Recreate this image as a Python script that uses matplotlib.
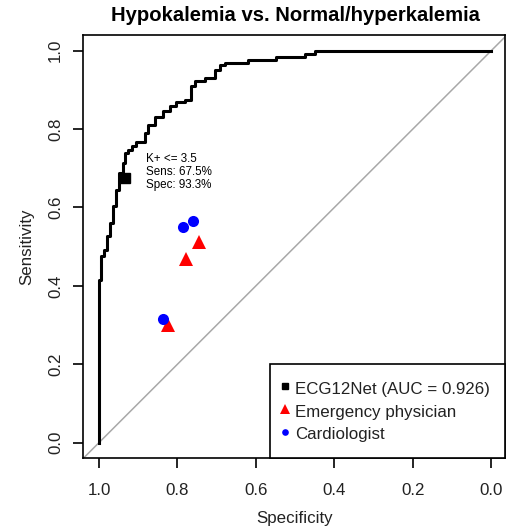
import matplotlib
matplotlib.use("Agg")
import matplotlib.pyplot as plt
from matplotlib.lines import Line2D

plt.rcParams['font.family'] = ['Liberation Sans', 'DejaVu Sans']

# ROC curve of ECG12Net (step vertices, spec decreasing)
roc_spec = [1.000, 1.000, 0.9957, 0.9873, 0.9786, 0.9727, 0.9643, 0.9557, 0.9498,
            0.9400, 0.9345, 0.9261, 0.9159, 0.9047, 0.8835, 0.8751, 0.8581, 0.8369,
            0.8198, 0.8028, 0.7816, 0.7645, 0.7561, 0.7306, 0.7051, 0.6924, 0.6796,
            0.6211, 0.5479, 0.4758, 0.4503, 0.000]
roc_sens = [0.000, 0.415, 0.475, 0.492, 0.526, 0.561, 0.603, 0.645, 0.689,
            0.714, 0.740, 0.747, 0.756, 0.768, 0.791, 0.811, 0.832, 0.845,
            0.858, 0.868, 0.875, 0.909, 0.922, 0.930, 0.951, 0.964, 0.969,
            0.975, 0.984, 0.992, 1.000, 1.000]

# best threshold
best_spec = 0.933
best_sens = 0.675
best_label = "K+ <= 3.5\nSens: 67.5%\nSpec: 93.3%"
auc = 0.926

# readers
em_spec = [0.745, 0.779, 0.824]
em_sens = [0.511, 0.469, 0.300]
card_spec = [0.786, 0.760, 0.838]
card_sens = [0.549, 0.566, 0.316]

fig = plt.figure(figsize=(5.07, 5.32), dpi=100)
ax = fig.add_axes([0.1643, 0.1385, 0.8317, 0.7957])

# chance line
ax.axline((1, 0), (0, 1), color='#a8a8a8', lw=1.1, zorder=1)

ax.plot(roc_spec, roc_sens, color='black', lw=2.2, drawstyle='steps-post', zorder=2)
ax.plot(best_spec, best_sens, 's', color='black', ms=6.5, zorder=3)
ax.text(best_spec - 0.052, best_sens + 0.015, best_label, fontsize=8.4,
        ha='left', va='center', linespacing=1.1)

ax.plot(em_spec, em_sens, '^', color='red', ms=10.5, mew=0, ls='none', zorder=3)
ax.plot(card_spec, card_sens, 'o', color='blue', ms=8, mew=0, ls='none', zorder=4)

ax.set_xlim(1.04, -0.035)
ax.set_ylim(-0.04, 1.04)
ticks = [0.0, 0.2, 0.4, 0.6, 0.8, 1.0]
ax.set_xticks(ticks)
ax.set_yticks(ticks)
ax.set_xticklabels([f"{t:.1f}" for t in ticks])
ax.set_yticklabels([f"{t:.1f}" for t in ticks], rotation=90, va='center')
ax.tick_params(length=7.2, width=1.2, labelsize=12.2, labelcolor='#222222')
ax.tick_params(axis='x', pad=10.5)
ax.tick_params(axis='y', pad=7.5)
for s in ax.spines.values():
    s.set_linewidth(1.2)

fig.text(0.582, 0.971, "Hypokalemia vs. Normal/hyperkalemia", fontsize=14.6,
         fontweight='bold', ha='center', va='center')
fig.text(0.582, 0.025, "Specificity", fontsize=12.2, ha='center', va='center',
         color='#222222')
fig.text(0.053, 0.537, "Sensitivity", fontsize=12.2, ha='center', va='center',
         rotation=90, color='#222222')

handles = [
    Line2D([], [], marker='s', color='black', ls='none', ms=4),
    Line2D([], [], marker='^', color='red', ls='none', ms=7.5, mew=0),
    Line2D([], [], marker='o', color='blue', ls='none', ms=4.8, mew=0),
]
labels = [f"ECG12Net (AUC = {auc})", "Emergency physician", "Cardiologist"]
leg = ax.legend(handles, labels, loc='lower right', bbox_to_anchor=(1, 0),
                borderaxespad=0, fancybox=False, fontsize=12.2, handlelength=0.1,
                handleheight=1.39, labelspacing=0.19, handletextpad=0.55,
                borderpad=0.87, framealpha=1)
leg.get_frame().set_edgecolor('black')
leg.get_frame().set_linewidth(1.2)
for t in leg.get_texts():
    t.set_color('#222222')

fig.savefig("out.png", dpi=100)
